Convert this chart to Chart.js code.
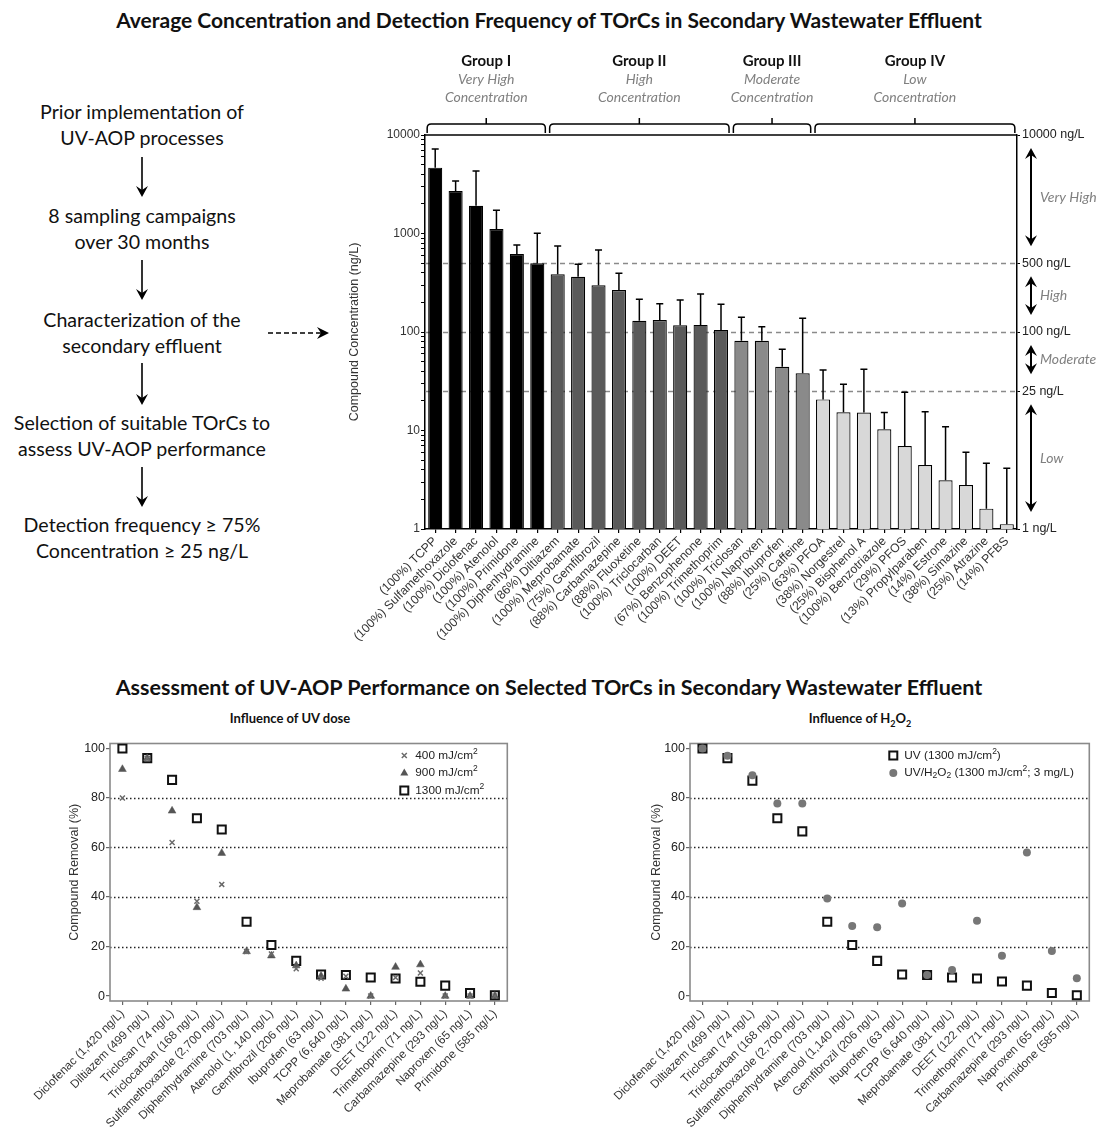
<!DOCTYPE html>
<html>
<head>
<meta charset="utf-8">
<script src="https://cdn.jsdelivr.net/npm/chart.js@4.4.1/dist/chart.umd.min.js"></script>
<style>
  body { margin:0; width:1098px; height:1130px; position:relative; background:#fff; overflow:hidden;
         font-family: Lato, "Open Sans", sans-serif; color:#111; }
  .title { position:absolute; left:0; width:1098px; text-align:center; font-weight:bold; font-size:21px; line-height:26px; }
  .sub { position:absolute; text-align:center; font-weight:bold; font-size:13px; line-height:16px; width:300px; }
  .flow { position:absolute; left:0; width:284px; text-align:center; font-size:19.6px; line-height:26px; }
  canvas, svg { position:absolute; }
</style>
</head>
<body>

<div class="title" style="top:7px">Average Concentration and Detection Frequency of TOrCs in Secondary Wastewater Effluent</div>

<div class="flow" style="top:99px">Prior implementation of<br>UV-AOP processes</div>
<div class="flow" style="top:203px">8 sampling campaigns<br>over 30 months</div>
<div class="flow" style="top:307px">Characterization of the<br>secondary effluent</div>
<div class="flow" style="top:410px">Selection of suitable TOrCs to<br>assess UV-AOP performance</div>
<div class="flow" style="top:512px">Detection frequency ≥ 75%<br>Concentration ≥ 25 ng/L</div>

<svg style="left:0;top:0" width="340" height="560">
  <g stroke="#000" stroke-width="1.6" fill="none">
    <line x1="142" y1="157" x2="142" y2="192"/>
    <line x1="142" y1="260" x2="142" y2="295"/>
    <line x1="142" y1="363" x2="142" y2="400"/>
    <line x1="142" y1="467" x2="142" y2="502"/>
    <line x1="268" y1="333" x2="322" y2="333" stroke-dasharray="5,3"/>
  </g>
  <g fill="#000">
    <polygon points="136,186 142,197 148,186 142,190"/>
    <polygon points="136,289 142,300 148,289 142,293"/>
    <polygon points="136,394 142,405 148,394 142,398"/>
    <polygon points="136,496 142,507 148,496 142,500"/>
    <polygon points="317,327 329,333 317,339 321,333"/>
  </g>
</svg>

<canvas id="conc" width="754" height="615" style="left:344px;top:45px"></canvas>

<div class="title" style="top:674px;font-size:21.5px">Assessment of UV-AOP Performance on Selected TOrCs in Secondary Wastewater Effluent</div>

<canvas id="dose" width="515" height="395" style="left:0px;top:735px"></canvas>
<canvas id="peroxide" width="537" height="395" style="left:560px;top:735px"></canvas>

<div class="sub" style="left:140px;top:710px">Influence of UV dose</div>
<div class="sub" style="left:710px;top:710px">Influence of H<sub style="font-size:9px">2</sub>O<sub style="font-size:9px">2</sub></div>

<script>
// ---------- Average concentration of TOrCs (log scale) ----------
const compounds = ['TCPP','Sulfamethoxazole','Diclofenac','Atenolol','Primidone','Diphenhydramine',
  'Diltiazem','Meprobamate','Gemfibrozil','Carbamazepine','Fluoxetine','Triclocarban','DEET','Benzophenone','Trimethoprim',
  'Triclosan','Naproxen','Ibuprofen','Caffeine',
  'PFOA','Norgestrel','Bisphenol A','Benzotriazole','PFOS','Propylparaben','Estrone','Simazine','Atrazine','PFBS'];
const detectionFreq = [100,100,100,100,100,100, 86,100,75,88,88,100,100,67,100, 100,100,88,25, 63,38,25,100,29,13,14,38,25,14];
const meanConc = [4660,2700,1915,1110,620,498, 385,364,298,267,130,132,117,118,105, 81.6,81.6,44.4,38.1,
  20.7,15.3,15.2,10.3,6.96,4.46,3.12,2.80,1.61,1.12];
const upperConc = [7200,3410,4310,1720,764,1005, 746,486,680,394,215,194,211,243,191, 141,113,66.7,138,
  41.1,29.4,41.8,15.2,24.4,15.5,10.9,6.0,4.65,4.13];
const groupSizes = [6, 9, 4, 10];
const groupNames = ['Group I','Group II','Group III','Group IV'];
const groupLevels = ['Very High','High','Moderate','Low'];
const groupColors = ['#000000','#5a5a5a','#8a8a8a','#d8d8d8'];
const thresholds = [500, 100, 25];
const rightTicks = [1, 25, 100, 500, 10000];
const bandEdges = [10000, 500, 100, 25, 1];

// ---------- UV-AOP removal ----------
const doseLabels = ['Diclofenac (1,420 ng/L)','Diltiazem (499 ng/L)','Triclosan (74 ng/L)','Triclocarban (168 ng/L)',
  'Sulfamethoxazole (2,700 ng/L)','Diphenhydramine (703 ng/L)','Atenolol (1, 140 ng/L)','Gemfibrozil (206 ng/L)',
  'Ibuprofen (63 ng/L)','TCPP (6,640 ng/L)','Meprobamate (381 ng/L)','DEET (122 ng/L)','Trimethoprim (71 ng/L)',
  'Carbamazepine (293 ng/L)','Naproxen (65 ng/L)','Primidone (585 ng/L)'];
const peroxideLabels = ['Diclofenac (1,420 ng/L)','Diltiazem (499 ng/L)','Triclosan (74 ng/L)','Triclocarban (168 ng/L)',
  'Sulfamethoxazole (2,700 ng/L)','Diphenhydramine (703 ng/L)','Atenolol (1,140 ng/L)','Gemfibrozil (206 ng/L)',
  'Ibuprofen (63 ng/L)','TCPP (6,640 ng/L)','Meprobamate (381 ng/L)','DEET (122 ng/L)','Trimethoprim (71 ng/L)',
  'Carbamazepine (293 ng/L)','Naproxen (65 ng/L)','Primidone (585 ng/L)'];
const removal400  = [80, 96, 62, 38.3, 45.1, 18, 17, 11, 7.2, 8, 0, 7.5, 9.3, 0, 0, 0];
const removal900  = [91.6, 96, 74.8, 35.8, 57.7, 18, 16.3, 12.3, 8.1, 2.9, 0, 11.7, 12.7, 0, 0, 0];
const removal1300 = [100, 96.1, 87.3, 71.8, 67.3, 30, 20.6, 14.2, 8.7, 8.5, 7.5, 7.1, 5.8, 4.2, 1.2, 0.3];
const removalUV   = [100, 96.1, 87, 71.8, 66.5, 30, 20.6, 14.2, 8.7, 8.5, 7.5, 7.1, 5.9, 4.2, 1.2, 0.3];
const removalUVH2O2 = [100, 97.1, 89.2, 77.8, 77.8, 39.4, 28.3, 27.8, 37.4, 8.5, 10.5, 30.4, 16.3, 58, 18.2, 7.2];
const removalGrid = [20, 40, 60, 80];

Chart.defaults.font.family = '"Liberation Sans", Arial, sans-serif';
Chart.defaults.color = '#222';

const labelFont = 'Lato, "Open Sans", sans-serif';

function drawArrowHead(ctx, x, y, dir) {
  // dir: -1 pointing up, 1 pointing down
  ctx.beginPath();
  ctx.moveTo(x, y);
  ctx.lineTo(x - 6, y - dir * 11);
  ctx.lineTo(x, y - dir * 7);
  ctx.lineTo(x + 6, y - dir * 11);
  ctx.closePath();
  ctx.fill();
}

const concDecor = {
  id: 'concDecor',
  beforeDatasetsDraw(chart) {
    const { ctx, chartArea: a, scales: { y } } = chart;
    ctx.save();
    ctx.strokeStyle = '#8a8a8a';
    ctx.lineWidth = 1.3;
    ctx.setLineDash([5, 4]);
    thresholds.forEach(v => {
      const py = Math.round(y.getPixelForValue(v)) + 0.5;
      ctx.beginPath(); ctx.moveTo(a.left, py); ctx.lineTo(a.right, py); ctx.stroke();
    });
    ctx.restore();
  },
  afterDatasetsDraw(chart) {
    const { ctx, chartArea: a, scales: { y } } = chart;
    const bars = chart.getDatasetMeta(0).data;
    ctx.save();
    ctx.strokeStyle = '#000';
    ctx.lineWidth = 1.5;
    // upper error whiskers
    bars.forEach((b, i) => {
      const yt = y.getPixelForValue(upperConc[i]);
      ctx.beginPath();
      ctx.moveTo(b.x, b.y); ctx.lineTo(b.x, yt);
      ctx.moveTo(b.x - 3.5, yt); ctx.lineTo(b.x + 3.5, yt);
      ctx.stroke();
    });
    // top frame
    ctx.beginPath(); ctx.moveTo(a.left, a.top); ctx.lineTo(a.right, a.top); ctx.stroke();

    // group brackets and headings
    let start = 0;
    groupSizes.forEach((n, g) => {
      const first = bars[start], last = bars[start + n - 1];
      const x0 = first.x - first.width / 2 - 1, x1 = last.x + last.width / 2 + 1, xc = (x0 + x1) / 2;
      const hy = a.top - 11, r = 4;
      ctx.strokeStyle = '#000'; ctx.lineWidth = 1.5;
      ctx.beginPath();
      ctx.moveTo(x0, a.top - 2); ctx.lineTo(x0, hy + r); ctx.quadraticCurveTo(x0, hy, x0 + r, hy);
      ctx.lineTo(x1 - r, hy); ctx.quadraticCurveTo(x1, hy, x1, hy + r); ctx.lineTo(x1, a.top - 2);
      ctx.moveTo(xc, hy); ctx.lineTo(xc, hy - 6);
      ctx.stroke();
      ctx.textAlign = 'center'; ctx.textBaseline = 'middle';
      ctx.fillStyle = '#111';
      ctx.font = 'bold 15px ' + labelFont;
      ctx.fillText(groupNames[g], xc, a.top - 74);
      ctx.fillStyle = '#808080';
      ctx.font = 'italic 14px ' + labelFont;
      ctx.fillText(groupLevels[g], xc, a.top - 56);
      ctx.fillText('Concentration', xc, a.top - 38);
      start += n;
    });

    // concentration bands on the right
    const ax = a.right + 14;
    ctx.fillStyle = '#000'; ctx.strokeStyle = '#000'; ctx.lineWidth = 2;
    for (let k = 0; k < groupLevels.length; k++) {
      const y0 = y.getPixelForValue(bandEdges[k]) + 13;
      const y1 = y.getPixelForValue(bandEdges[k + 1]) - 17;
      ctx.beginPath(); ctx.moveTo(ax, y0 + 6); ctx.lineTo(ax, y1 - 6); ctx.stroke();
      drawArrowHead(ctx, ax, y0, -1);
      drawArrowHead(ctx, ax, y1, 1);
      ctx.save();
      ctx.fillStyle = '#808080';
      ctx.font = 'italic 14px ' + labelFont;
      ctx.textAlign = 'left'; ctx.textBaseline = 'middle';
      ctx.fillText(groupLevels[k], ax + 9, (y0 + y1) / 2);
      ctx.restore();
    }
    ctx.restore();
  }
};

const barColors = [];
groupSizes.forEach((n, g) => { for (let i = 0; i < n; i++) barColors.push(groupColors[g]); });

const logTicks = [];
for (let d = 1; d < 10000; d *= 10) for (let k = 1; k < 10; k++) logTicks.push(d * k);
logTicks.push(10000);

new Chart(document.getElementById('conc'), {
  type: 'bar',
  data: {
    labels: compounds.map((c, i) => '(' + detectionFreq[i] + '%) ' + c),
    datasets: [{
      data: meanConc,
      backgroundColor: barColors,
      borderColor: '#000',
      borderWidth: 1.2,
      barPercentage: 0.69,
      categoryPercentage: 1
    }]
  },
  options: {
    responsive: false, animation: false, devicePixelRatio: 1,
    layout: { padding: { top: 90, left: 0, right: 0, bottom: 0 } },
    plugins: { legend: { display: false }, tooltip: { enabled: false } },
    scales: {
      x: {
        grid: { display: true, drawOnChartArea: false, offset: false, tickLength: 4, color: '#000', lineWidth: 1.2 },
        border: { color: '#000', width: 1.5 },
        ticks: { minRotation: 45, maxRotation: 45, autoSkip: false, padding: 1, color: '#333',
                 font: { size: 12.3 } },
        afterFit(s) { s.height = 131; s.paddingLeft = 0; s.paddingRight = 0; }
      },
      y: {
        type: 'logarithmic', position: 'left', min: 1, max: 10000,
        afterBuildTicks(s) { s.ticks = logTicks.map(v => ({ value: v })); },
        ticks: { autoSkip: false, padding: 1, color: '#333', font: { size: 12 },
                 callback: v => ([1, 10, 100, 1000, 10000].includes(v) ? String(v) : '') },
        grid: { drawOnChartArea: false, tickLength: 4, color: '#000' },
        border: { color: '#000', width: 1.5 },
        title: { display: true, text: 'Compound Concentration (ng/L)', color: '#333', font: { size: 12.5 }, padding: { top: 3, bottom: 0 } },
        afterFit(s) { s.width = 81; }
      },
      y2: {
        type: 'logarithmic', position: 'right', min: 1, max: 10000,
        afterBuildTicks(s) { s.ticks = rightTicks.map(v => ({ value: v })); },
        ticks: { autoSkip: false, padding: 2, color: '#222', font: { size: 12.5 },
                 callback: v => v + ' ng/L' },
        grid: { drawOnChartArea: false, tickLength: 3, color: '#000' },
        border: { color: '#000', width: 1.5 },
        afterFit(s) { s.width = 81; }
      }
    }
  },
  plugins: [concDecor]
});

// ---------- removal scatter panels ----------
function marker(ctx, style, x, y) {
  ctx.save();
  ctx.setLineDash([]);
  if (style === 'crossRot') {
    ctx.strokeStyle = '#6a6a6a'; ctx.lineWidth = 1.5;
    ctx.beginPath(); ctx.moveTo(x - 2.5, y - 2.5); ctx.lineTo(x + 2.5, y + 2.5);
    ctx.moveTo(x + 2.5, y - 2.5); ctx.lineTo(x - 2.5, y + 2.5); ctx.stroke();
  } else if (style === 'triangle') {
    ctx.fillStyle = '#555';
    ctx.beginPath(); ctx.moveTo(x, y - 4.5); ctx.lineTo(x + 4, y + 2.5); ctx.lineTo(x - 4, y + 2.5); ctx.closePath(); ctx.fill();
  } else if (style === 'rect') {
    ctx.fillStyle = '#fff'; ctx.strokeStyle = '#111'; ctx.lineWidth = 2;
    ctx.fillRect(x - 4, y - 4, 8, 8); ctx.strokeRect(x - 4, y - 4, 8, 8);
  } else {
    ctx.fillStyle = '#777';
    ctx.beginPath(); ctx.arc(x, y, 4, 0, Math.PI * 2); ctx.fill();
  }
  ctx.restore();
}

function richText(ctx, x, y, parts) {
  let cx = x;
  parts.forEach(([t, kind]) => {
    if (kind === 'sup') { ctx.font = '8.5px "Liberation Sans", Arial'; ctx.fillText(t, cx, y - 4); }
    else if (kind === 'sub') { ctx.font = '8.5px "Liberation Sans", Arial'; ctx.fillText(t, cx, y + 3); }
    else { ctx.font = '11.8px "Liberation Sans", Arial'; ctx.fillText(t, cx, y); }
    cx += ctx.measureText(t).width;
  });
}

function removalFrame(legendItems, legendOffset) {
  return {
    id: 'removalFrame',
    beforeDatasetsDraw(chart) {
      const { ctx, chartArea: a, scales: { y } } = chart;
      ctx.save();
      ctx.strokeStyle = '#222'; ctx.lineWidth = 1.5; ctx.setLineDash([1.5, 2.5]);
      removalGrid.forEach(v => {
        const py = Math.round(y.getPixelForValue(v)) + 0.5;
        ctx.beginPath(); ctx.moveTo(a.left, py); ctx.lineTo(a.right, py); ctx.stroke();
      });
      ctx.setLineDash([]);
      ctx.strokeStyle = '#8a8a8a'; ctx.lineWidth = 1.6;
      ctx.strokeRect(a.left, a.top, a.right - a.left, a.bottom - a.top);
      ctx.restore();
    },
    afterDraw(chart) {
      const { ctx, chartArea: a } = chart;
      ctx.save();
      ctx.fillStyle = '#222'; ctx.textBaseline = 'middle'; ctx.textAlign = 'left';
      legendItems.forEach((it, i) => {
        const yy = a.top + 12 + i * 17.5;
        marker(ctx, it.style, a.right - legendOffset, yy);
        ctx.fillStyle = '#222';
        richText(ctx, a.right - legendOffset + 11, yy, it.parts);
      });
      ctx.restore();
    }
  };
}

function removalOptions(axisWidth, titleOffset) {
  return {
    responsive: false, animation: false, devicePixelRatio: 1,
    layout: { padding: { top: 2, right: 7, left: 0, bottom: 0 } },
    plugins: { legend: { display: false }, tooltip: { enabled: false } },
    scales: {
      x: {
        type: 'category', offset: true,
        grid: { display: true, drawOnChartArea: false, offset: false, tickLength: 4, color: '#666', lineWidth: 1.2 },
        border: { display: false },
        ticks: { minRotation: 45, maxRotation: 45, autoSkip: false, padding: 2, color: '#333', font: { size: 11.8 } },
        afterFit(s) { s.height = 129; s.paddingLeft = 0; s.paddingRight = 0; }
      },
      y: {
        min: -2, max: 102,
        afterBuildTicks(s) { s.ticks = [0, 20, 40, 60, 80, 100].map(v => ({ value: v })); },
        grid: { drawOnChartArea: false, tickLength: 4, color: '#666', lineWidth: 1.2 },
        border: { display: false },
        ticks: { padding: 1, color: '#222', font: { size: 12.5 } },
        title: { display: true, text: 'Compound Removal (%)', color: '#333', font: { size: 12.5 },
                 padding: { top: titleOffset, bottom: 0 } },
        afterFit(s) { s.width = axisWidth; }
      }
    }
  };
}

new Chart(document.getElementById('dose'), {
  type: 'line',
  data: {
    labels: doseLabels,
    datasets: [
      { label: '400 mJ/cm2', data: removal400, showLine: false, pointStyle: 'crossRot', pointRadius: 3.5,
        borderColor: '#6a6a6a', backgroundColor: '#6a6a6a', pointBorderWidth: 1.5 },
      { label: '900 mJ/cm2', data: removal900, showLine: false, pointStyle: 'triangle', pointRadius: 4.5,
        borderColor: '#555', backgroundColor: '#555', pointBorderWidth: 0.5 },
      { label: '1300 mJ/cm2', data: removal1300, showLine: false, pointStyle: 'rect', pointRadius: 5.7,
        borderColor: '#111', backgroundColor: '#fff', pointBorderWidth: 2 }
    ]
  },
  options: removalOptions(110, 67),
  plugins: [removalFrame([
    { style: 'crossRot', parts: [['400 mJ/cm', 'n'], ['2', 'sup']] },
    { style: 'triangle', parts: [['900 mJ/cm', 'n'], ['2', 'sup']] },
    { style: 'rect', parts: [['1300 mJ/cm', 'n'], ['2', 'sup']] }
  ], 103)]
});

new Chart(document.getElementById('peroxide'), {
  type: 'line',
  data: {
    labels: peroxideLabels,
    datasets: [
      { label: 'UV (1300 mJ/cm2)', data: removalUV, showLine: false, pointStyle: 'rect', pointRadius: 5.7,
        borderColor: '#111', backgroundColor: '#fff', pointBorderWidth: 2, order: 2 },
      { label: 'UV/H2O2 (1300 mJ/cm2; 3 mg/L)', data: removalUVH2O2, showLine: false, pointStyle: 'circle', pointRadius: 4,
        borderColor: '#777', backgroundColor: '#777', pointBorderWidth: 0, order: 1 }
    ]
  },
  options: removalOptions(130, 89),
  plugins: [removalFrame([
    { style: 'rect', parts: [['UV (1300 mJ/cm', 'n'], ['2', 'sup'], [')', 'n']] },
    { style: 'circle', parts: [['UV/H', 'n'], ['2', 'sub'], ['O', 'n'], ['2', 'sub'], [' (1300 mJ/cm', 'n'], ['2', 'sup'], ['; 3 mg/L)', 'n']] }
  ], 196)]
});
</script>
</body>
</html>
